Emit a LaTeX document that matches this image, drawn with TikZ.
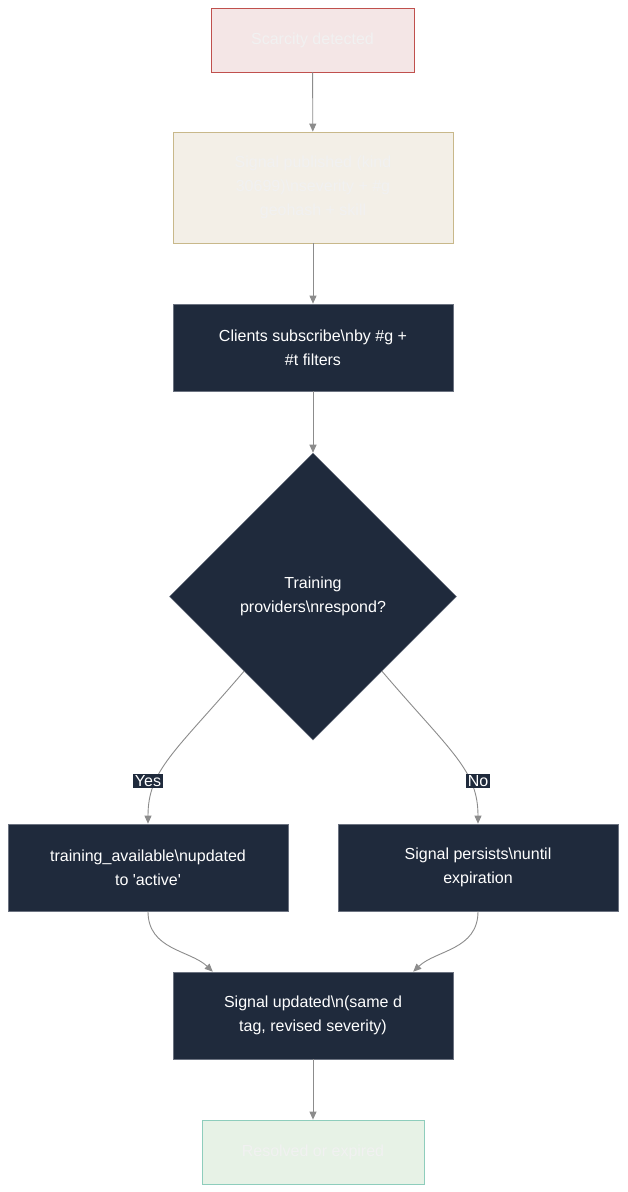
\documentclass[tikz,border=0pt]{standalone}
\usepackage{fontspec}
\setmainfont{Liberation Sans}
\usetikzlibrary{shapes.geometric,arrows.meta,calc}
\definecolor{darkbox}{HTML}{1F2A3C}
\definecolor{darkline}{HTML}{6B7280}
\definecolor{edgegray}{HTML}{8C8C8C}
\definecolor{redfill}{HTML}{F4E6E6}
\definecolor{redline}{HTML}{C0504D}
\definecolor{tanfill}{HTML}{F3EFE7}
\definecolor{tanline}{HTML}{C8B88A}
\definecolor{greenfill}{HTML}{E7F2E6}
\definecolor{greenline}{HTML}{8ECDBC}
\definecolor{paletext}{HTML}{F1F1F1}
\tikzset{
  x=1pt,y=-1pt,
  every node/.style={font=\fontsize{16}{24}\selectfont, align=center, inner sep=0pt},
  darkstep/.style={draw=darkline, line width=0.7pt, fill=darkbox, text=white, minimum width=280pt, minimum height=87pt},
  redstep/.style={draw=redline, line width=0.8pt, fill=redfill, text=paletext, minimum width=203pt, minimum height=64pt},
  tanstep/.style={draw=tanline, line width=0.8pt, fill=tanfill, text=paletext, minimum width=280pt, minimum height=111pt},
  greenstep/.style={draw=greenline, line width=0.8pt, fill=greenfill, text=paletext, minimum width=222pt, minimum height=64pt},
  decision/.style={diamond, aspect=1, draw=darkline, line width=0.5pt, fill=darkbox, text=white, minimum width=287pt, minimum height=287pt},
  edgelabel/.style={fill=darkbox, text=white, inner sep=1.5pt},
  flow/.style={draw=edgegray, line width=0.9pt, -{Triangle[length=8pt,width=7pt]}},
}
\begin{document}
\begin{tikzpicture}
\useasboundingbox (0,0) rectangle (627,1192);
\fill[white] (0,0) rectangle (627,1192);

\node[redstep] (scar) at (312.5,40) {Scarcity detected};
\node[tanstep] (pub) at (313,187.5) {Signal published (kind\\30699)\textbackslash nseverity + \#g\\geohash + skill};
\node[darkstep] (sub) at (313,347.5) {Clients subscribe\textbackslash nby \#g +\\\#t filters};
\node[decision] (dec) at (313,596.5) {Training\\providers\textbackslash nrespond?};
\node[darkstep] (train) at (148,867.5) {training\_available\textbackslash nupdated\\to \textquotesingle active\textquotesingle};
\node[darkstep] (pers) at (478,867.5) {Signal persists\textbackslash nuntil\\expiration};
\node[darkstep] (upd) at (313,1015.5) {Signal updated\textbackslash n(same d\\tag, revised severity)};
\node[greenstep] (res) at (313,1152) {Resolved or expired};

\draw[flow] (scar) -- (pub);
\draw[flow] (pub) -- (sub);
\draw[flow] (sub) -- (dec);
\draw[flow] ($(dec.west)!0.52!(dec.south)$) .. controls (175,752) and (148,770) .. (train.north);
\draw[flow] ($(dec.east)!0.52!(dec.south)$) .. controls (451,752) and (478,770) .. (pers.north);
\draw[flow] (train.south) .. controls (148,950) and (190,950) .. ($(upd.north west)!0.143!(upd.north east)$);
\draw[flow] (pers.south) .. controls (478,950) and (436,950) .. ($(upd.north east)!0.143!(upd.north west)$);
\draw[flow] (upd) -- (res);

\node[edgelabel] (yes) at (148,781) {Yes};
\node[edgelabel] (no) at (478,781) {No};
\end{tikzpicture}
\end{document}
